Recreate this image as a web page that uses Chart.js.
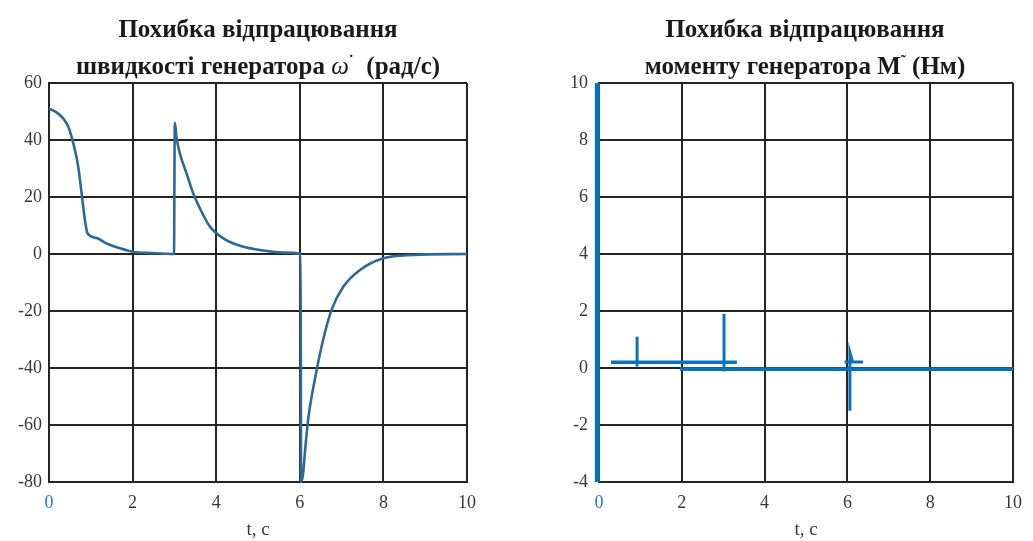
<!DOCTYPE html>
<html>
<head>
<meta charset="utf-8">
<script src="https://cdn.jsdelivr.net/npm/chart.js@4/dist/chart.umd.min.js"></script>
<style>
  html, body { margin: 0; padding: 0; background: #fff; }
  #wrap { position: relative; width: 1033px; height: 541px; overflow: hidden; }
  .panel { position: absolute; top: 0; height: 541px; }
  .title {
    position: absolute; top: 10px; text-align: center;
    font-family: "Liberation Serif", "DejaVu Serif", serif;
    font-weight: bold; font-size: 25px; line-height: 37px; color: #1a1a1a;
    z-index: 2;
  }
  .title sup { font-size: 15px; vertical-align: 9px; line-height: 0; }
</style>
</head>
<body>
<div id="wrap">
  <div class="title" style="left:6px;width:504px">Похибка відпрацювання<br>швидкості генератора <i style="font-weight:normal">ω</i><sup>˙</sup>&nbsp; (рад/с)</div>
  <div class="title" style="left:553px;width:504px">Похибка відпрацювання<br>моменту генератора M<sup>˜</sup> (Нм)</div>
  <div class="panel" style="left:0;width:516px"><canvas id="speedChart"></canvas></div>
  <div class="panel" style="left:516px;width:517px"><canvas id="torqueChart"></canvas></div>
</div>

<script>
/* ---- speed error, rad/s ---- */
const speedT   = [0, 0.18, 0.34, 0.46, 0.54, 0.62, 0.70, 0.78, 0.86, 0.92, 1.14, 1.38, 1.70, 2.0, 2.48, 2.99,
                  3.01, 3.05, 3.13, 3.29, 3.45, 3.61, 3.85, 4.17, 4.57, 5.13, 5.61, 6.02,
                  6.03, 6.08, 6.12, 6.2, 6.36, 6.56, 6.76, 7.04, 7.44, 8.0, 8.72, 10];
const speedErr = [51, 49.7, 47.6, 44.7, 41.2, 36.5, 30.6, 21.3, 11.9, 7.3, 5.6, 3.7, 2.0, 0.8, 0.3, 0,
                  46, 41, 35.3, 28.3, 21.3, 16, 9.6, 5.5, 2.9, 1.2, 0.5, 0.1,
                  -80, -77, -70, -58, -44, -30, -19.6, -11.5, -5.6, -1.5, -0.35, 0];

/* ---- torque error, N·m ---- */
const startT  = [-0.04, -0.04], startM  = [-4, 10];
const holdT   = [0.29, 3.33],   holdM   = [0.2, 0.2];
const spike1T = [0.92, 0.92],   spike1M = [0.05, 1.1];
const spike2T = [3.02, 3.02],   spike2M = [-0.12, 1.9];
const steadyT = [1.96, 10],     steadyM = [-0.04, -0.04];
const stepT   = [5.93, 6.38],   stepM   = [0.21, 0.21];
const spike3T = [6.06, 6.06, 6.12], spike3M = [-1.5, 0.55, 0.25];

const timeTicks = [0, 2, 4, 6, 8, 10];

const serif = '"Liberation Serif", "DejaVu Serif", serif';
const gridColor = '#242424';

function pts(xs, ys) {
  return xs.map((x, i) => ({ x, y: ys[i] }));
}

function line(xs, ys, color, width) {
  return {
    data: pts(xs, ys),
    showLine: true,
    borderColor: color,
    borderWidth: width,
    pointRadius: 0,
    clip: false,
    borderCapStyle: 'butt'
  };
}

function axes(yMin, yMax, yStep, yWidth, yPad) {
  return {
    x: {
      type: 'linear', min: 0, max: 10,
      afterBuildTicks: s => { s.ticks = timeTicks.map(v => ({ value: v })); },
      afterFit: s => { s.height = 59; },
      grid: { color: gridColor, lineWidth: 2, drawTicks: false },
      border: { color: gridColor, width: 2 },
      ticks: {
        padding: 10,
        color: c => c.tick.value === 0 ? '#1f7ac4' : '#383838',
        font: { family: serif, size: 18 }
      },
      title: {
        display: true, text: 't, c', color: '#383838',
        font: { family: serif, size: 19, lineHeight: 1.2 },
        padding: { top: 0, bottom: 0 }
      }
    },
    y: {
      type: 'linear', min: yMin, max: yMax,
      afterFit: s => { s.width = yWidth; },
      grid: { color: gridColor, lineWidth: 2, drawTicks: false },
      border: { color: gridColor, width: 2 },
      ticks: {
        stepSize: yStep, padding: yPad, color: '#383838',
        font: { family: serif, size: 18 }
      }
    }
  };
}

const common = {
  responsive: true,
  maintainAspectRatio: false,
  animation: false,
  plugins: { legend: { display: false }, tooltip: { enabled: false } }
};

// smooth transient curve, clipped to the plot box
const speedLine = line(speedT, speedErr, '#2d6996', 2.6);
speedLine.cubicInterpolationMode = 'monotone';
speedLine.borderJoinStyle = 'round';
speedLine.clip = 1;

new Chart(document.getElementById('speedChart'), {
  type: 'scatter',
  data: { datasets: [speedLine] },
  options: {
    ...common,
    layout: { padding: { top: 83, right: 49, bottom: 0, left: 0 } },
    scales: axes(-80, 60, 20, 49, 7)
  }
});

const blue = '#0a72bd';
new Chart(document.getElementById('torqueChart'), {
  type: 'scatter',
  data: {
    datasets: [
      line(startT, startM, blue, 5),
      line(holdT, holdM, blue, 3.5),
      line(spike1T, spike1M, blue, 3),
      line(spike2T, spike2M, blue, 3),
      line(steadyT, steadyM, blue, 3.8),
      line(stepT, stepM, blue, 3),
      line(spike3T, spike3M, blue, 3)
    ]
  },
  options: {
    ...common,
    layout: { padding: { top: 83, right: 20, bottom: 0, left: 0 } },
    scales: axes(-4, 10, 2, 83, 11)
  }
});
</script>
</body>
</html>
